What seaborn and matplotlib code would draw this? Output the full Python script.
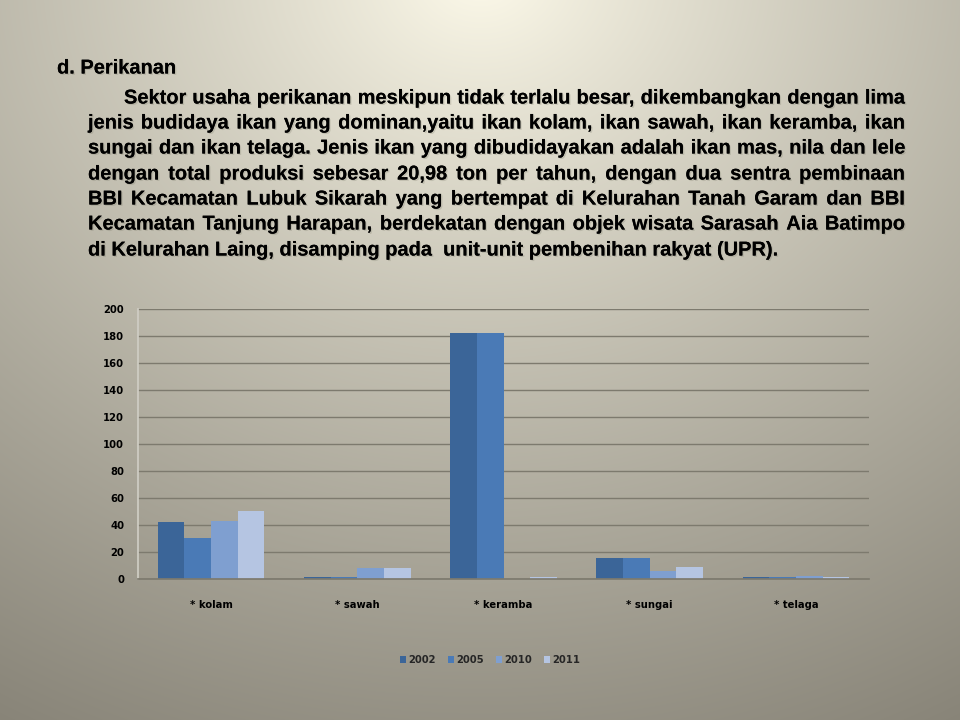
import numpy as np
import pandas as pd
import matplotlib
matplotlib.use("Agg")
import matplotlib.pyplot as plt
import matplotlib.patheffects as pe
import seaborn as sns

# ---------------- data ----------------
categories = ["* kolam", "* sawah", "* keramba", "* sungai", "* telaga"]
years = ["2002", "2005", "2010", "2011"]
v2002 = [42, 1.5, 182, 15.5, 1.5]
v2005 = [30.5, 1.5, 182, 15.5, 1.5]
v2010 = [43, 8, 0, 6, 2]
v2011 = [50.5, 8, 1.5, 9, 1.5]
yticks = [0, 20, 40, 60, 80, 100, 120, 140, 160, 180, 200]

title_text = "d. Perikanan"
body_lines = [
    "Sektor usaha perikanan meskipun tidak terlalu besar, dikembangkan dengan lima",
    "jenis budidaya ikan yang dominan,yaitu ikan kolam, ikan sawah, ikan keramba, ikan",
    "sungai dan ikan telaga. Jenis ikan yang dibudidayakan adalah ikan mas, nila dan lele",
    "dengan total produksi sebesar 20,98 ton per tahun, dengan dua sentra pembinaan",
    "BBI Kecamatan Lubuk Sikarah yang bertempat di Kelurahan Tanah Garam dan BBI",
    "Kecamatan Tanjung Harapan, berdekatan dengan objek wisata Sarasah Aia Batimpo",
    "di Kelurahan Laing, disamping pada  unit-unit pembenihan rakyat (UPR).",
]

palette = ["#3b6598", "#4a7ab6", "#7f9fd0", "#b5c5e2"]

df = pd.DataFrame({
    "cat": categories * 4,
    "year": sum([[y] * len(categories) for y in years], []),
    "val": v2002 + v2005 + v2010 + v2011,
})

# ---------------- figure ----------------
sns.set_theme(style="white")
plt.rcParams["font.family"] = ["DejaVu Sans"]
W, H, DPI = 960, 720, 100
fig = plt.figure(figsize=(W / DPI, H / DPI), dpi=DPI)

# background radial gradient
bg = fig.add_axes([0, 0, 1, 1], zorder=-10)
yy, xx = np.mgrid[0:H, 0:W]
d = np.sqrt(((xx - 480) / 1.15) ** 2 + ((yy + 30) / 1.0) ** 2)
t = np.clip(d / 860.0, 0, 1) ** 0.85
c0 = np.array([255, 252, 236]) / 255.0
c1 = np.array([136, 132, 120]) / 255.0
img = c0[None, None, :] + (c1 - c0)[None, None, :] * t[:, :, None]
bg.imshow(img, aspect="auto", extent=[0, W, H, 0])
bg.set_xlim(0, W)
bg.set_ylim(H, 0)
bg.axis("off")

# chart axes
L, R, T, B = 138, 869, 309, 579
ax = fig.add_axes([L / W, 1 - B / H, (R - L) / W, (B - T) / H])
ax.patch.set_alpha(0)
sns.barplot(data=df, x="cat", y="val", hue="year", palette=palette,
            width=0.73, saturation=1, edgecolor="none", linewidth=0, ax=ax)
handles, labels = ax.get_legend_handles_labels()
if ax.get_legend() is not None:
    ax.get_legend().remove()

ax.set_ylim(0, 200)
ax.set_yticks(yticks)
ax.set_xlim(-0.5, len(categories) - 0.5)
ax.set_xlabel("")
ax.set_ylabel("")
ax.yaxis.grid(True, color="#7d7a6e", linewidth=1.0)
ax.set_axisbelow(True)
for s in ["top", "right"]:
    ax.spines[s].set_visible(False)
ax.spines["left"].set_color("#cfcdc4")
ax.spines["bottom"].set_color("#7d7a6e")
ax.tick_params(axis="both", length=0)
ax.tick_params(axis="y", pad=10)
ax.tick_params(axis="x", pad=15)
for lab in ax.get_yticklabels() + ax.get_xticklabels():
    lab.set_fontsize(7.2)
    lab.set_fontweight("bold")
    lab.set_color("black")

fig.legend(handles, labels, loc="center", bbox_to_anchor=(490 / W, 1 - 660 / H),
           ncol=4, frameon=False, prop={"size": 7.2, "weight": "bold"},
           handlelength=0.6, handleheight=0.6, handletextpad=0.25,
           columnspacing=1.2)

# ---------------- text ----------------
renderer = fig.canvas.get_renderer()
shadow = [pe.withSimplePatchShadow(offset=(1, -1), shadow_rgbFace="#777766", alpha=0.25), pe.Normal()]
fam = ["Liberation Sans", "DejaVu Sans"]

def width_px(s, size):
    tt = fig.text(0, 0, s, fontsize=size, family=fam, fontweight="bold")
    w = tt.get_window_extent(renderer).width
    tt.remove()
    return w

# fit font size so last line spans 88 -> 775 px
base = 12.0
wlast = width_px(body_lines[-1], base)
fs = base * (775 - 88) / wlast

def put(x, y, s):
    fig.text(x / W, 1 - y / H, s, fontsize=fs, family=fam, fontweight="bold",
             va="center", ha="left", color="black", path_effects=shadow)

put(57, 68, title_text)
line_y = [98, 123, 148, 174, 199, 224, 250]
x_right = 905
for i, line in enumerate(body_lines):
    x0 = 124 if i == 0 else 88
    y = line_y[i]
    if i == len(body_lines) - 1:
        put(x0, y, line)
        continue
    words = line.split(" ")
    ws = [width_px(w_, fs) for w_ in words]
    gap = (x_right - x0 - sum(ws)) / (len(words) - 1)
    x = x0
    for w_, wd in zip(words, ws):
        put(x, y, w_)
        x += wd + gap

fig.savefig("out.png", dpi=DPI)
